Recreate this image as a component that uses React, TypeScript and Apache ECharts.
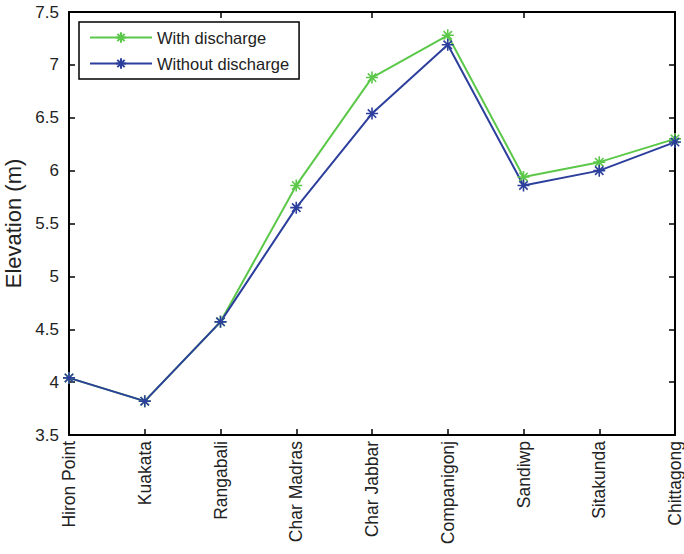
import React, { useEffect, useRef } from "react";
import * as echarts from "echarts";

const categories = ["Hiron Point", "Kuakata", "Rangabali", "Char Madras", "Char Jabbar", "Companigonj", "Sandiwp", "Sitakunda", "Chittagong"];
const withDischarge = [4.04, 3.82, 4.57, 5.86, 6.88, 7.28, 5.94, 6.08, 6.30];
const withoutDischarge = [4.04, 3.82, 4.57, 5.65, 6.54, 7.19, 5.86, 6.00, 6.27];
const seriesNames = ["With discharge", "Without discharge"];

const GREEN = "#5cc84a";
const BLUE = "#2d3f9c";
const STAR = "path://M0,-5L0,5M-5,0L5,0M-3.5,-3.5L3.5,3.5M-3.5,3.5L3.5,-3.5";

export default function App() {
  const ref = useRef<HTMLDivElement>(null);
  useEffect(() => {
    const chart = echarts.init(ref.current!, null, { renderer: "svg" });
    const font = "Liberation Sans, Arial, sans-serif";
    const mk = (name: string, data: number[], color: string) => ({
      name,
      type: "line",
      data,
      symbol: STAR,
      symbolSize: 12,
      showSymbol: true,
      lineStyle: { color, width: 2 },
      itemStyle: { color, borderColor: color, borderWidth: 1.6 },
      emphasis: { disabled: true },
    });
    chart.setOption({
      animation: false,
      backgroundColor: "#fff",
      textStyle: { fontFamily: font },
      grid: { left: 69, right: 9, top: 12, bottom: 119, containLabel: false, outerBoundsMode: "none" },
      legend: {
        left: 79,
        top: 22,
        orient: "vertical",
        data: seriesNames,
        itemWidth: 62,
        itemHeight: 13,
        itemGap: 9,
        padding: [7, 10, 7, 10],
        borderColor: "#000",
        borderWidth: 1.5,
        backgroundColor: "#fff",
        textStyle: { fontSize: 16.5, color: "#222", fontFamily: font },
      },
      xAxis: [
        {
          type: "category",
          data: categories,
          boundaryGap: false,
          axisLine: { lineStyle: { color: "#000", width: 2 } },
          axisTick: { inside: true, length: 6, lineStyle: { color: "#000", width: 1.5 } },
          axisLabel: { rotate: 90, fontSize: 17.5, color: "#222", margin: 6, fontFamily: font },
          splitLine: { show: false },
        },
        {
          type: "category",
          data: categories,
          position: "top",
          boundaryGap: false,
          axisLine: { lineStyle: { color: "#000", width: 2 } },
          axisTick: { inside: true, length: 6, lineStyle: { color: "#000", width: 1.5 } },
          axisLabel: { show: false },
          splitLine: { show: false },
        },
      ],
      yAxis: [
        {
          type: "value",
          min: 3.5,
          max: 7.5,
          interval: 0.5,
          name: "Elevation (m)",
          nameLocation: "middle",
          nameGap: 45,
          nameTextStyle: { fontSize: 22, color: "#222", fontFamily: font },
          axisLine: { show: true, lineStyle: { color: "#000", width: 2 } },
          axisTick: { show: true, inside: true, length: 6, lineStyle: { color: "#000", width: 1.5 } },
          axisLabel: { fontSize: 17, color: "#222", margin: 10, fontFamily: font },
          splitLine: { show: false },
        },
        {
          type: "value",
          min: 3.5,
          max: 7.5,
          interval: 0.5,
          position: "right",
          axisLine: { show: true, lineStyle: { color: "#000", width: 2 } },
          axisTick: { show: true, inside: true, length: 6, lineStyle: { color: "#000", width: 1.5 } },
          axisLabel: { show: false },
          splitLine: { show: false },
        },
      ],
      series: [mk(seriesNames[0], withDischarge, GREEN), mk(seriesNames[1], withoutDischarge, BLUE)],
    });
    return () => chart.dispose();
  }, []);
  return <div ref={ref} style={{ width: 684, height: 554, position: "absolute", left: 0, top: 0 }} />;
}
